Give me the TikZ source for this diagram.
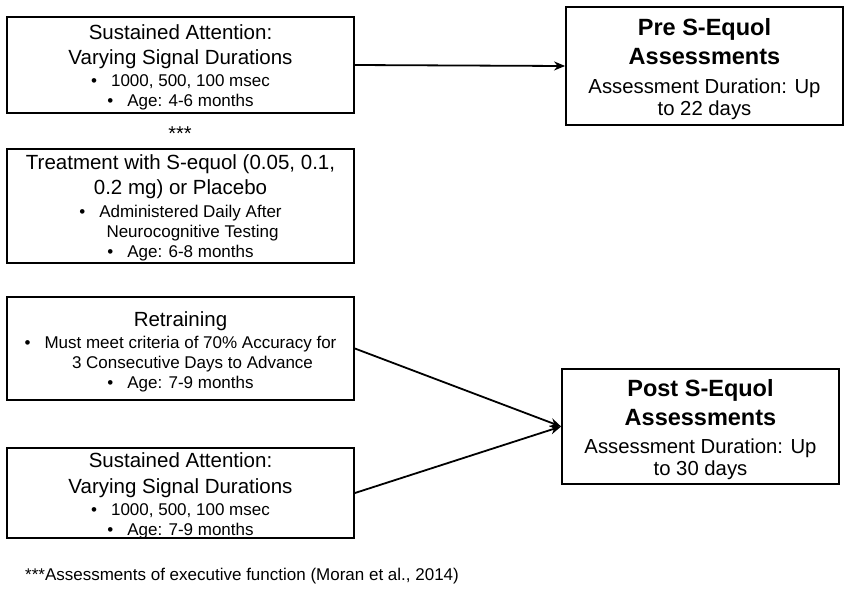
\documentclass[tikz,border=0pt]{standalone}
\usepackage{fontspec}
\setmainfont{Liberation Sans}
\usetikzlibrary{arrows.meta}
\tikzset{
  frame/.style={draw=black, line width=1.8pt, inner sep=0pt},
  txt/.style={inner sep=0pt, align=center, font=\fontsize{17}{20}\selectfont},
  asmt/.style={inner sep=0pt, align=center, font=\fontsize{20.3}{22}\selectfont},
  conn/.style={line width=1.8pt, -{Stealth[length=11pt,width=9pt]}},
}
\newcommand{\bigline}[1]{{\fontsize{20.5}{24}\selectfont #1}}
\newcommand{\boldline}[1]{{\fontsize{23.5}{26}\selectfont\bfseries #1}}
\newcommand{\bul}{\textbullet\hspace{14pt}}
\begin{document}
\begin{tikzpicture}[x=1pt,y=-1pt]
\useasboundingbox (0,0) rectangle (850,590);
% left column
\node[frame, minimum width=347, minimum height=96] (s1) at (180.5,65) {};
\node[txt] (s1t) at ([yshift=-2.5pt]s1.center)
  {\bigline{Sustained Attention:}\\[5pt] \bigline{Varying Signal Durations}\\[2pt] \bul 1000, 500, 100 msec\\ \bul Age: 4-6 months};
\node (stars) at (180,134) {\fontsize{20}{22}\selectfont ***};
\node[frame, minimum width=347, minimum height=114] (tr) at (180.5,206) {};
\node[txt] (trt) at ([yshift=-2pt]tr.center)
  {\bigline{Treatment with S-equol (0.05, 0.1,}\\[5pt] \bigline{0.2 mg) or Placebo}\\[3pt] \bul Administered Daily After\\ \hspace{24pt}Neurocognitive Testing\\ \bul Age: 6-8 months};
\node[frame, minimum width=347, minimum height=103] (rt) at (180.5,348.5) {};
\node[txt] (rtt) at ([yshift=-3pt]rt.center)
  {\bigline{Retraining}\\[2pt] \bul Must meet criteria of 70\% Accuracy for\\ \hspace{24pt}3 Consecutive Days to Advance\\ \bul Age: 7-9 months};
\node[frame, minimum width=347, minimum height=90] (s2) at (180.5,493) {};
\node[txt] (s2t) at ([yshift=-2.5pt]s2.center)
  {\bigline{Sustained Attention:}\\[6pt] \bigline{Varying Signal Durations}\\[2pt] \bul 1000, 500, 100 msec\\ \bul Age: 7-9 months};
% right column
\node[frame, minimum width=277, minimum height=118] (pre) at (704.5,66) {};
\node[asmt] (pret) at ([yshift=-3.5pt]pre.center)
  {\boldline{Pre S-Equol}\\[7pt] \boldline{Assessments}\\[7pt] Assessment Duration: Up\\ to 22 days};
\node[frame, minimum width=277, minimum height=115] (post) at (700.5,426.5) {};
\node[asmt] (postt) at ([yshift=-3pt]post.center)
  {\boldline{Post S-Equol}\\[7pt] \boldline{Assessments}\\[6pt] Assessment Duration: Up\\ to 30 days};
\node[anchor=west, inner sep=0pt, font=\fontsize{17}{20}\selectfont] (foot) at (25,576) {***Assessments of executive function (Moran et al., 2014)};
% connectors
\draw[conn] (s1.east) -- (pre.west);
\draw[conn] (rt.east) -- (post.west);
\draw[conn] (s2.east) -- (post.west);
\end{tikzpicture}
\end{document}
